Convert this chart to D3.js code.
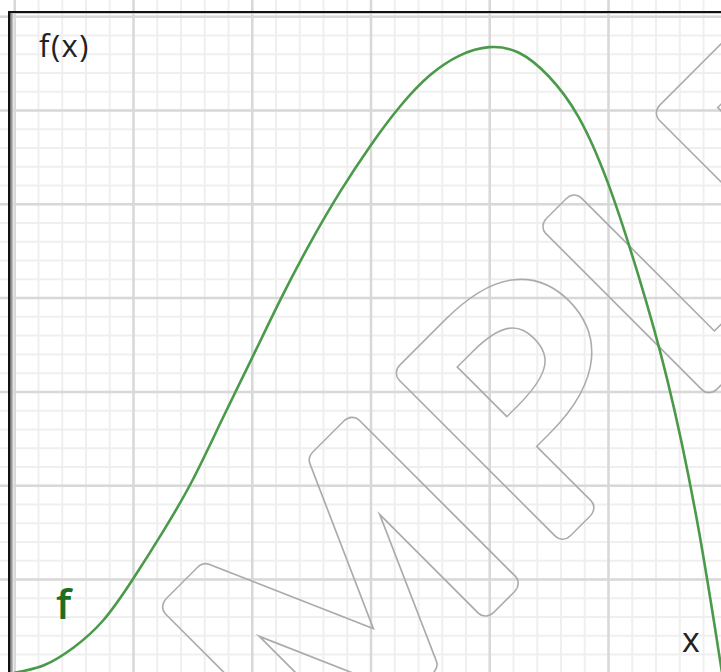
<!DOCTYPE html>
<html>
<head>
<meta charset="utf-8">
<script src="https://cdn.jsdelivr.net/npm/d3@7"></script>
<style>
  html, body { margin: 0; padding: 0; background: #fff; overflow: hidden; }
</style>
</head>
<body>
<div id="chart"></div>
<script>
// curve (x and f(x) in major grid units)
var curveX = [0, 0.25, 0.5, 0.75, 1, 1.25, 1.5, 1.75, 2, 2.25, 2.5, 2.75, 3, 3.25, 3.5, 3.75, 4, 4.25, 4.5, 4.75, 5, 5.25, 5.5, 5.75, 5.96];
var curveY = [0, 0.08, 0.27, 0.56, 1.0, 1.5, 2.05, 2.7, 3.35, 4.0, 4.6, 5.14, 5.62, 6.04, 6.37, 6.58, 6.67, 6.61, 6.36, 5.93, 5.22, 4.26, 3.12, 1.62, 0];

var xMajor = [0, 1, 2, 3, 4, 5, 6];
var yMajor = [0, 1, 2, 3, 4, 5, 6, 7];

var yLabel = "f(x)";
var xLabel = "x";
var seriesLabel = "f";
var watermarkLeft = "SAM";
var watermarkRight = ["P", "L", "E"];

function drawChart() {
   var width = 721,
       height = 672;

   var svg = d3.select("#chart")
      .append("svg")
      .attr("width", width)
      .attr("height", height);

   // scales: one major cell is 118.75px wide and 93.8px tall
   var x = d3.scaleLinear().domain([0, 6]).range([14.25, 726.75]);
   var y = d3.scaleLinear().domain([0, 7]).range([672.8, 16.2]);

   var grid = svg.append("g");

   function gridLines(axis, color, w, shift) {
      var g = grid.append("g");
      if (shift) g.attr("transform", "translate(0," + height + ")");
      g.call(axis)
         .call(function(s) { s.select(".domain").remove(); })
         .selectAll("line").attr("stroke", color).attr("stroke-width", w);
   }

   // minor grid
   gridLines(d3.axisBottom(x).tickValues(x.ticks(30)).tickSize(-height).tickFormat(""), "#efefef", 2, true);
   gridLines(d3.axisLeft(y).tickValues(y.ticks(35)).tickSize(-width).tickFormat(""), "#efefef", 2, false);
   // major grid
   gridLines(d3.axisBottom(x).tickValues(xMajor).tickSize(-height).tickFormat(""), "#d8d8d8", 2.5, true);
   gridLines(d3.axisLeft(y).tickValues(yMajor).tickSize(-width).tickFormat(""), "#d8d8d8", 2.5, false);

   // watermark: outline of the dilated glyphs, made with a mask
   var defs = svg.append("defs");
   var mask = defs.append("mask").attr("id", "wm")
      .attr("maskUnits", "userSpaceOnUse")
      .attr("x", 0).attr("y", 0).attr("width", width).attr("height", height);
   mask.append("rect").attr("width", width).attr("height", height).attr("fill", "black");
   var wmg = mask.append("g").attr("transform", "translate(546,546) rotate(-45)");
   var rightGaps = [0, 2, -16];

   [["white", 21.5], ["black", 18.5]].forEach(function(s) {
      function styled(t) {
         return t.attr("font-family", "Open Sans")
            .attr("font-size", 310)
            .attr("fill", s[0])
            .attr("stroke", s[0])
            .attr("stroke-width", s[1])
            .attr("stroke-linejoin", "round");
      }
      styled(wmg.append("g").attr("transform", "scale(1.15,1)")
         .append("text").attr("x", -17.2).attr("text-anchor", "end"))
         .text(watermarkLeft);

      var right = styled(wmg.append("g").attr("transform", "scale(1.1,1)")
         .append("text").attr("x", -8));
      right.selectAll("tspan")
         .data(watermarkRight)
         .enter().append("tspan")
         .attr("dx", function(d, i) { return rightGaps[i]; })
         .text(function(d) { return d; });
   });
   svg.append("rect")
      .attr("width", width).attr("height", height)
      .attr("fill", "#ababab")
      .attr("mask", "url(#wm)");

   // the curve
   var line = d3.line()
      .x(function(d, i) { return x(curveX[i]); })
      .y(function(d) { return y(d); })
      .curve(d3.curveNatural);

   svg.append("path")
      .datum(curveY)
      .attr("d", line)
      .attr("fill", "none")
      .attr("stroke", "#4a9a4a")
      .attr("stroke-width", 2.6);

   // labels
   svg.append("text")
      .attr("x", 39).attr("y", 57)
      .attr("font-family", "Open Sans")
      .attr("font-size", 31)
      .attr("letter-spacing", 1.5)
      .attr("fill", "#222")
      .text(yLabel);

   svg.append("text")
      .attr("x", 682).attr("y", 652)
      .attr("font-family", "Open Sans")
      .attr("font-size", 34)
      .attr("fill", "#222")
      .text(xLabel);

   svg.append("text")
      .attr("x", 56).attr("y", 619)
      .attr("font-family", "Open Sans")
      .attr("font-size", 42)
      .attr("font-weight", 600)
      .attr("fill", "#1f6e1f")
      .text(seriesLabel);

   // frame: top and left edges with a soft shadow
   svg.append("rect").attr("x", 8).attr("y", 11).attr("width", width).attr("height", 2).attr("fill", "#111");
   svg.append("rect").attr("x", 10).attr("y", 13).attr("width", width).attr("height", 1).attr("fill", "#ccc");
   svg.append("rect").attr("x", 8).attr("y", 11).attr("width", 2).attr("height", height).attr("fill", "#111");
   svg.append("rect").attr("x", 10).attr("y", 13).attr("width", 1).attr("height", height).attr("fill", "#777");
   svg.append("rect").attr("x", 11).attr("y", 13).attr("width", 1).attr("height", height).attr("fill", "#999");
   svg.append("rect").attr("x", 12).attr("y", 13).attr("width", 1).attr("height", height).attr("fill", "#bbb");
}
drawChart();
</script>
</body>
</html>
